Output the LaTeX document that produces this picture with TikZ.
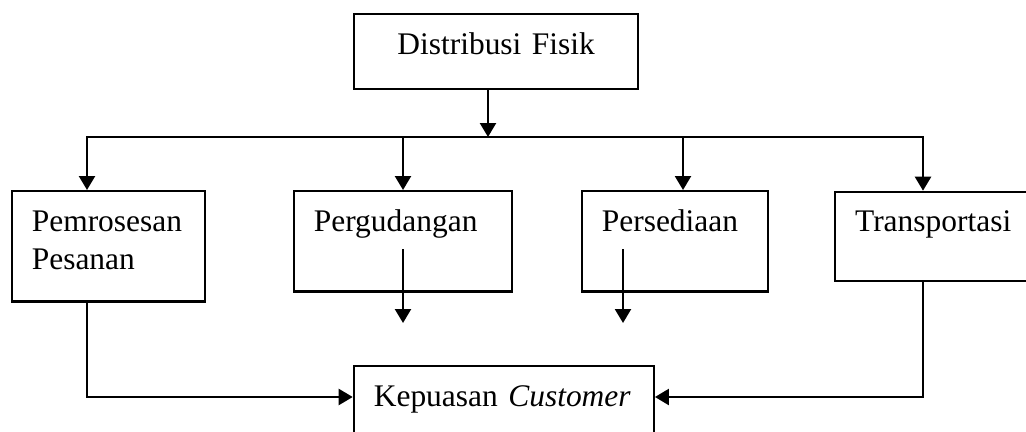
\documentclass[tikz,border=0pt]{standalone}
\usepackage{fontspec}
\setmainfont{Liberation Serif}
\usetikzlibrary{arrows.meta}
\hyphenpenalty=10000
\exhyphenpenalty=10000
\tikzset{
  box/.style={draw,line width=1.3pt,anchor=north west,inner xsep=0.4cm,inner ysep=0pt,
              text height=0.8cm,align=left},
  arr/.style={-{Triangle[length=0.28cm,width=0.32cm]},line width=1.3pt},
  lin/.style={line width=1.3pt,line cap=rect},
}
\begin{document}
\begin{tikzpicture}[x=0.02cm,y=-0.02cm,font=\fontsize{17.9}{21.6}\selectfont]
  \useasboundingbox (0,0) rectangle (1026,432);
  \node[box,align=center,text width=4.88cm,text depth=0.7cm] (fisik) at (353,13) {Distribusi Fisik};
  \node[box,text width=3.07cm,text depth=1.41cm] (pesan) at (10.7,190) {Pemrosesan\\Pesanan};
  \node[box,text width=3.56cm,text depth=1.21cm] (gudang) at (292.7,190) {Pergudangan};
  \node[box,text width=2.92cm,text depth=1.21cm] (sedia) at (580.7,190) {Persediaan};
  \node[box,text width=3.2cm,text depth=0.99cm] (trans) at (834,190.7) {Transportasi};
  \node[box,text width=5.2cm,text depth=0.8cm] (puas) at (352.7,365) {Kepuasan \textit{Customer}};

  \coordinate (bus) at (488,137);
  \coordinate (d1) at (87,137);  \coordinate (d2) at (403,137);
  \coordinate (d3) at (683,137); \coordinate (d4) at (923,137);
  \coordinate (g1) at (403,249); \coordinate (g2) at (403,323);
  \coordinate (s1) at (623,249); \coordinate (s2) at (623,323);
  \coordinate (meet) at (500,397);

  \draw[arr] (bus |- fisik.south) -- (bus);
  \draw[lin] (d1) -- (d4);
  \draw[arr] (d1) -- (d1 |- pesan.north);
  \draw[arr] (d2) -- (d2 |- gudang.north);
  \draw[arr] (d3) -- (d3 |- sedia.north);
  \draw[arr] (d4) -- (d4 |- trans.north);
  \draw[arr] (g1) -- (g2);
  \draw[arr] (s1) -- (s2);
  \draw[arr] (d1 |- pesan.south) |- (meet -| puas.west);
  \draw[arr] (d4 |- trans.south) |- (meet -| puas.east);
\end{tikzpicture}
\end{document}
